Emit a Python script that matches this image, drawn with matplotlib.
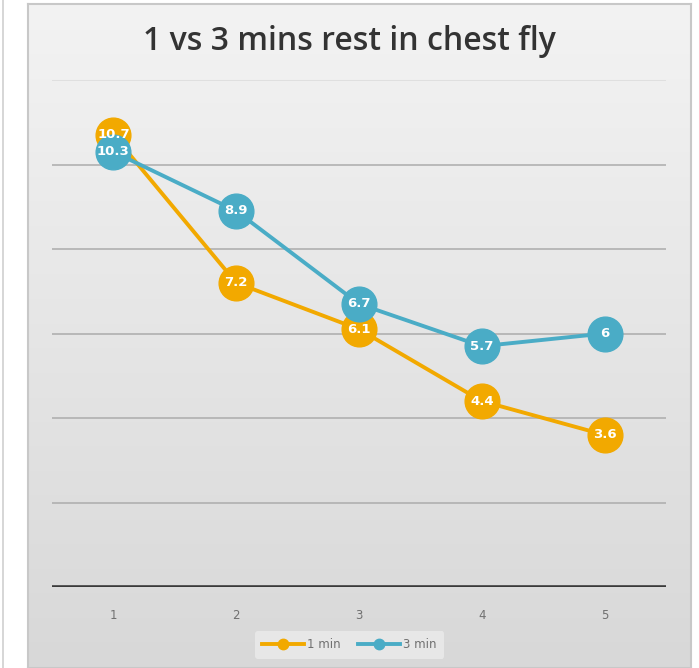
import matplotlib.pyplot as plt
import numpy as np

sets = [1, 2, 3, 4, 5]
one_min = [10.7, 7.2, 6.1, 4.4, 3.6]
three_min = [10.3, 8.9, 6.7, 5.7, 6]
orange = '#f2a900'
blue = '#4aacc6'

fig = plt.figure(figsize=(6.99, 6.68), dpi=100)
fig.patch.set_facecolor('white')

# gray panel with a soft vertical gradient
bg = fig.add_axes([28 / 699, 0, (691 - 28) / 699, 1 - 4 / 668])
grad = np.linspace(0, 1, 256).reshape(-1, 1)
bg.imshow(grad, aspect='auto', cmap=plt.matplotlib.colors.LinearSegmentedColormap.from_list(
    'g', ['#f3f3f3', '#d8d8d8']), extent=[0, 1, 0, 1], origin='upper')
bg.set_xticks([])
bg.set_yticks([])
for s in bg.spines.values():
    s.set_color('#c8c8c8')
    s.set_linewidth(1.5)
fig.add_artist(plt.Line2D([2.5 / 699, 2.5 / 699], [0, 1], color='#cfcfcf', lw=1.2))

ax = fig.add_axes([52 / 699, 1 - 587 / 668, (666 - 52) / 699, (587 - 80) / 668])
ax.patch.set_alpha(0)
ax.set_xlim(0.5, 5.5)
ax.set_ylim(0, 12)
for y in range(2, 13, 2):
    ax.axhline(y, color='#b0b0b0' if y < 12 else '#dcdcdc', lw=1.2, zorder=1)
ax.axhline(0, color='#3a3a3a', lw=2.6, zorder=2)
for s in ax.spines.values():
    s.set_visible(False)
ax.set_yticks([])
ax.set_xticks(sets)
ax.tick_params(axis='x', length=0, pad=16, labelsize=8.5, labelcolor='#707070')

ax.plot(sets, one_min, color=orange, lw=2.8, marker='o', ms=25, mec=orange,
        label='1 min', zorder=3)
ax.plot(sets, three_min, color=blue, lw=2.8, marker='o', ms=25, mec=blue,
        label='3 min', zorder=4)
for x, y in zip(sets, one_min):
    ax.text(x, y, f'{y:g}', ha='center', va='center', color='white',
            fontsize=9.5, fontweight='bold', zorder=5)
for x, y in zip(sets, three_min):
    ax.text(x, y, f'{y:g}', ha='center', va='center', color='white',
            fontsize=9.5, fontweight='bold', zorder=6)

fig.text(0.5, 1 - 42 / 668, '1 vs 3 mins rest in chest fly', ha='center', va='center',
         fontsize=23, color='#333333', family='Open Sans', fontweight='semibold')

leg = fig.legend(loc='center', bbox_to_anchor=(0.5, 1 - 645 / 668), ncol=2,
                 fontsize=8.5, frameon=True, facecolor='#ebebeb', edgecolor='none',
                 handlelength=3.5, markerscale=0.3, columnspacing=1.5, handletextpad=0.3,
                 borderpad=0.6, labelcolor='#707070')

fig.savefig('out.png', dpi=100)
